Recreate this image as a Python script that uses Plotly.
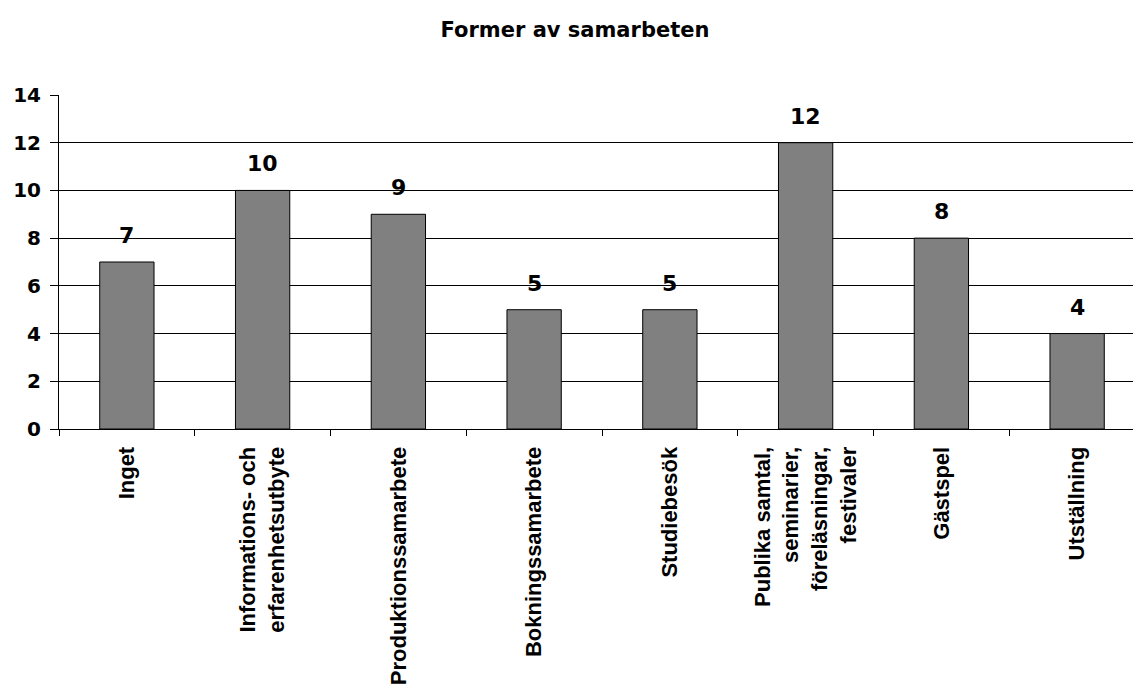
import plotly.graph_objects as go

categories = ["Inget", "Informations- och erfarenhetsutbyte", "Produktionssamarbete",
              "Bokningssamarbete", "Studiebesök",
              "Publika samtal, seminarier, föreläsningar, festivaler",
              "Gästspel", "Utställning"]
tick_labels = ["Inget", "Informations- och<br>erfarenhetsutbyte", "Produktionssamarbete",
               "Bokningssamarbete", "Studiebesök",
               "Publika samtal,<br>seminarier,<br>föreläsningar,<br>festivaler",
               "Gästspel", "Utställning"]
values = [7, 10, 9, 5, 5, 12, 8, 4]
y_ticks = [0, 2, 4, 6, 8, 10, 12, 14]
title_text = "Former av samarbeten"

# page body has an 8px default margin; compensate
OFF = 8
W, H = 1141 - OFF, 690 - OFF

Y_FONT = dict(family="DejaVu Sans", size=20, color="black")
LBL_FONT = dict(family="DejaVu Sans", size=22, color="black")
T_FONT = dict(family="DejaVu Sans", size=21, color="black")
X_FONT = dict(family="Liberation Sans, Arial", size=22, color="black")

fig = go.Figure()
fig.add_trace(go.Bar(
    x=categories, y=values, width=0.4,
    marker=dict(color="#808080", line=dict(color="black", width=1)),
    hoverinfo="skip",
))

for c, v in zip(categories, values):
    fig.add_annotation(x=c, y=v, text=f"<b>{v}</b>", showarrow=False,
                       yanchor="bottom", yshift=12, font=LBL_FONT)

fig.update_layout(
    width=W, height=H,
    margin=dict(l=59 - OFF, r=0, t=95 - OFF, b=H - (429 - OFF)),
    paper_bgcolor="white", plot_bgcolor="white",
    showlegend=False,
    title=dict(text=f"<b>{title_text}</b>", x=(575 - OFF) / W, xref="container", xanchor="center",
               y=1 - (30 - OFF) / H, yref="container", yanchor="middle", font=T_FONT),
    bargap=0.6,
)
fig.update_xaxes(
    type="category", range=[-0.5, -0.5 + (1141 - 59) / 135.75],
    tickmode="array", tickvals=categories, ticktext=[f"<b>{t}</b>" for t in tick_labels],
    tickangle=-90, tickfont=X_FONT, tickson="boundaries",
    ticks="outside", ticklen=6, tickcolor="black", tickwidth=1,
    showline=True, linecolor="black", linewidth=1,
    showgrid=False, ticklabelstandoff=8, automargin=False,
)
fig.update_yaxes(
    range=[0, 14], tickmode="array", tickvals=y_ticks,
    ticktext=[f"<b>{t}</b>" for t in y_ticks], tickfont=Y_FONT,
    ticks="outside", ticklen=8, tickcolor="black", tickwidth=1,
    showline=True, linecolor="black", linewidth=1,
    showgrid=True, gridcolor="black", gridwidth=1, zeroline=False,
    ticklabelstandoff=5, automargin=False,
)

fig.write_html("out.html")
